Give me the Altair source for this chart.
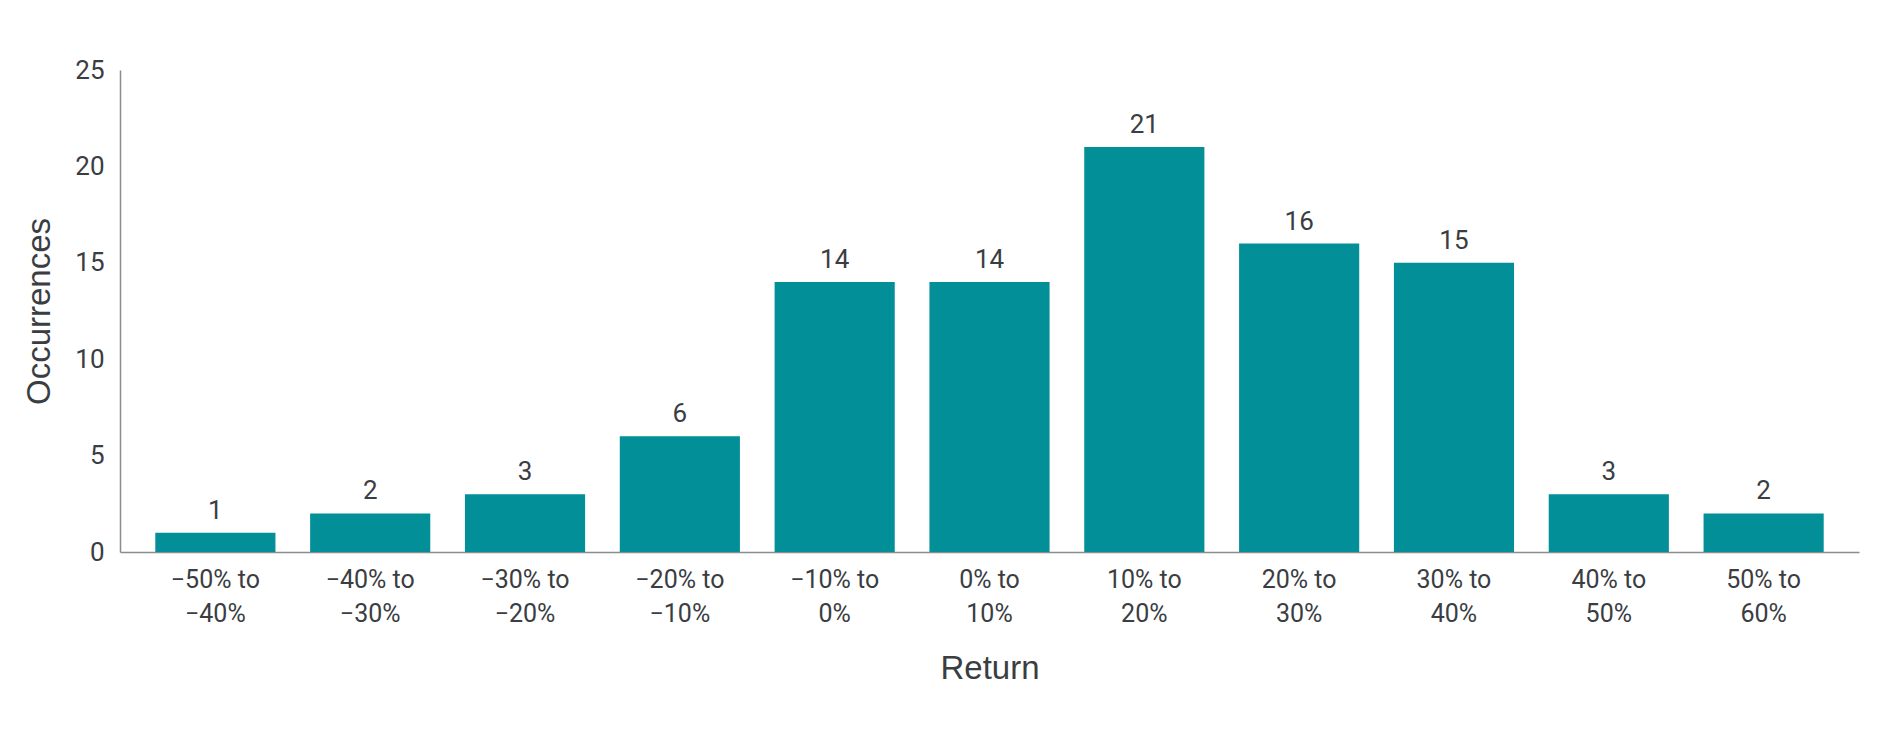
import altair as alt
import pandas as pd

categories = ["−50% to −40%", "−40% to −30%", "−30% to −20%", "−20% to −10%",
              "−10% to 0%", "0% to 10%", "10% to 20%", "20% to 30%",
              "30% to 40%", "40% to 50%", "50% to 60%"]
occurrences = [1, 2, 3, 6, 14, 14, 21, 16, 15, 3, 2]

df = pd.DataFrame({"Return": categories, "Occurrences": occurrences})

NARROW = "Roboto, DejaVu Sans Condensed, sans-serif"
REG = "Liberation Sans, Arial, sans-serif"
TXT = "#3a3d42"
BAR = "#038F97"
AX = "#8c8c8c"

x = alt.X("Return:N", sort=categories, title="Return",
          scale=alt.Scale(paddingInner=0.224, paddingOuter=0.228),
          axis=alt.Axis(labelAngle=0, ticks=False, domainColor=AX, domainWidth=1.5,
                        labelFont=NARROW, labelFontSize=25, labelColor=TXT,
                        labelLineHeight=34, labelPadding=15, labelBaseline="top",
                        labelExpr="[split(datum.label, ' to ')[0] + ' to', split(datum.label, ' to ')[1]]",
                        titleFont=REG, titleFontSize=33, titleFontWeight="normal",
                        titleColor=TXT, titleY=116, titleBaseline="middle"))
y = alt.Y("Occurrences:Q", title="Occurrences",
          scale=alt.Scale(domain=[0, 25], nice=False),
          axis=alt.Axis(values=[0, 5, 10, 15, 20, 25], grid=False, ticks=False,
                        domainColor=AX, domainWidth=1.5,
                        labelFont=NARROW, labelFontSize=26, labelColor=TXT,
                        labelPadding=16,
                        titleFont=REG, titleFontSize=33, titleFontWeight="normal",
                        titleColor=TXT, titleX=-81, titleY=241, titleAngle=-90,
                        titleBaseline="middle", titleAlign="center"))

base = alt.Chart(df)
bars = base.mark_bar(color=BAR).encode(x=x, y=y)
labels = base.mark_text(font=NARROW, fontSize=26, color=TXT, dy=-14,
                        baseline="alphabetic").encode(
    x=alt.X("Return:N", sort=categories),
    y="Occurrences:Q",
    text="Occurrences:Q")

chart = (bars + labels).properties(
    width=1739, height=482,
    autosize=alt.AutoSizeParams(type="none"),
    padding={"left": 112, "top": 62, "right": 37, "bottom": 170},
).configure(background="white").configure_view(strokeWidth=0, stroke="transparent")

chart.save("out.html", embed_options={"renderer": "svg", "actions": False})
